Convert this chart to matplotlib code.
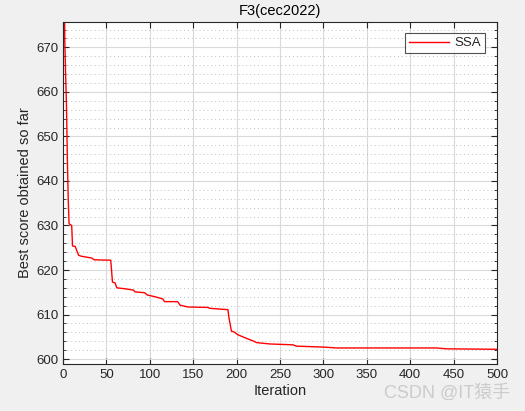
import matplotlib
matplotlib.use("Agg")
import matplotlib.pyplot as plt
from matplotlib.ticker import MultipleLocator

plt.rcParams['font.family'] = ['Liberation Sans', 'DejaVu Sans']

title = "F3(cec2022)"
series_name = "SSA"
xlabel = "Iteration"
ylabel = "Best score obtained so far"

# convergence curve key points (iteration, best score)
iters = [1, 2, 3, 4, 5, 6, 7, 10, 11, 14, 15, 16, 18, 21, 33, 36, 55, 57, 60, 62,
         71, 81, 83, 94, 97, 106, 115, 117, 132, 135, 144, 167, 169, 190,
         191, 194, 198, 201, 212, 220, 223, 238, 265, 269, 300, 315, 430, 442, 500]
scores = [700, 672, 664, 657, 645, 636, 630.4, 630.0, 625.4, 625.3, 624.8, 624.3, 623.3, 623.1,
          622.7, 622.3, 622.2, 617.3, 617.1, 616.0,
          615.8, 615.5, 615.1, 614.9, 614.4, 614.0, 613.5, 612.9, 612.9, 612.1,
          611.7, 611.6, 611.4, 611.1,
          609.5, 606.3, 606.0, 605.5, 604.6, 604.0, 603.7, 603.4, 603.2, 602.9,
          602.7, 602.5, 602.5, 602.3, 602.2]

fig = plt.figure(figsize=(5.25, 4.11), dpi=100, facecolor='#f0f0f0')
ax = fig.add_axes([0.12, 0.1144, 0.8267, 0.8321])
ax.set_facecolor('white')

ax.plot(iters, scores, color='red', lw=1.0, label=series_name)

ax.set_xlim(0, 500)
ax.set_ylim(598.9, 675.7)
ax.xaxis.set_major_locator(MultipleLocator(50))
ax.yaxis.set_major_locator(MultipleLocator(10))
ax.yaxis.set_minor_locator(MultipleLocator(2))

txtc = '#262626'
ax.grid(which='major', color='#dadada', lw=0.8)
ax.grid(which='minor', axis='y', color='#bdbdbd', lw=0.7, linestyle=(0, (1, 3)))
ax.set_axisbelow(True)

ax.tick_params(which='both', direction='in', top=True, right=True, colors=txtc, labelsize=9.5)
ax.tick_params(which='major', length=4, width=0.8)
ax.tick_params(which='minor', length=2.5, width=0.6)
for s in ax.spines.values():
    s.set_color('#262626')
    s.set_linewidth(0.8)

ax.set_title(title, fontsize=10.5, color='#000000', pad=5)
ax.set_xlabel(xlabel, fontsize=10.5, color=txtc, labelpad=2)
ax.set_ylabel(ylabel, fontsize=10.5, color=txtc, labelpad=3)

leg = ax.legend(loc='upper right', fontsize=9.5, frameon=True, fancybox=False,
                edgecolor='#262626', handlelength=3.0, borderpad=0.3,
                handletextpad=0.4, borderaxespad=0.0,
                bbox_to_anchor=(0.972, 0.968))
leg.get_frame().set_linewidth(0.8)
for t in leg.get_texts():
    t.set_color(txtc)

fig.text(0.972, 0.022, "CSDN @IT猿手", ha='right', va='bottom', fontsize=13,
         color='#c8c8c8', alpha=0.9,
         family=['Liberation Sans', 'Noto Sans CJK SC', 'DejaVu Sans'])

fig.savefig("out.png", dpi=100, facecolor=fig.get_facecolor())
